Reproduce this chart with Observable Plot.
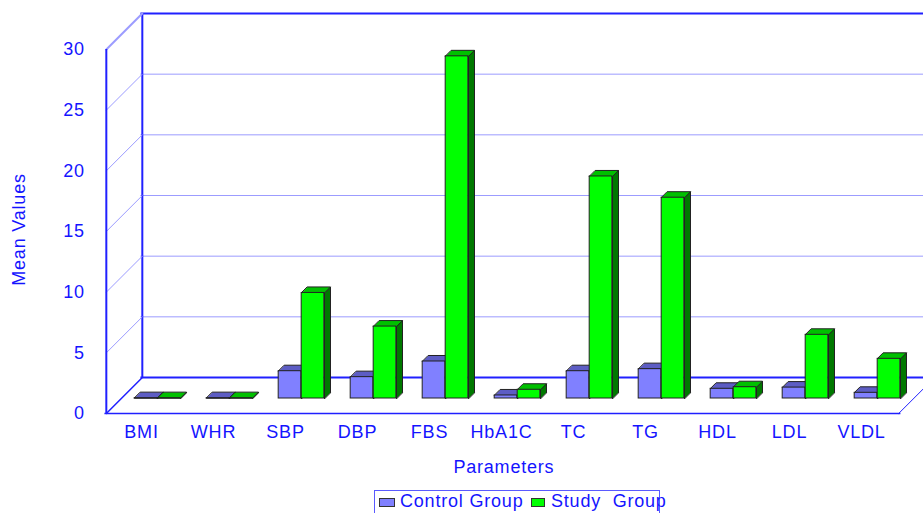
<!DOCTYPE html>
<html>
<head>
<meta charset="utf-8">
<script src="https://cdn.jsdelivr.net/npm/d3@7"></script>
<script src="https://cdn.jsdelivr.net/npm/@observablehq/plot@0.6"></script>
<style>
  html, body { margin: 0; padding: 0; background: #fff; overflow: hidden; }
  #chart { position: relative; width: 923px; height: 513px; font-family: "Liberation Sans", Arial, sans-serif; }
  #chart svg text { letter-spacing: 0.8px; }
  .legend { position: absolute; left: 374px; top: 490px; width: 286px; height: 30px;
            border: 1px solid #5a5aff; box-sizing: border-box; overflow: visible;
            font-family: "Liberation Sans", Arial, sans-serif; font-size: 18px; color: #1414ff;
            letter-spacing: 0.8px; white-space: pre; }
  .legend .sw { position: absolute; top: 7px; height: 9px; border: 1px solid #333; box-sizing: border-box; }
  .legend .lab { position: absolute; top: 0px; line-height: 20px; }
</style>
</head>
<body>
<div id="chart"></div>
<script>
// ---- data ----
const categories = ["BMI", "WHR", "SBP", "DBP", "FBS", "HbA1C", "TC", "TG", "HDL", "LDL", "VLDL"];
const controlGroup = [0.03, 0.03, 2.25, 1.76, 3.05, 0.25, 2.25, 2.42, 0.8, 0.9, 0.47];
const studyGroup = [0.03, 0.03, 8.7, 5.93, 28.2, 0.72, 18.3, 16.55, 0.93, 5.25, 3.27];
const yTicks = [0, 5, 10, 15, 20, 25, 30];
const seriesNames = ["Control Group", "Study  Group"];

// ---- styling constants ----
const W = 923, H = 489;
const mL = 119.4, mR = 7.6, mT = 34, mB = 91;
const step = (W - mL - mR) / categories.length;
const half = step / 2;
const barW = 23, depth = 6;
const front = 15, back = 21;
const blue = "#2020ff", light = "#9c9cff", textBlue = "#1414ff";

// custom curves: draw 3D faces from scaled points
const face = (kind, xl, xr, d) => (context) => {
  let pts = [];
  return {
    areaStart() {}, areaEnd() {},
    lineStart() { pts = []; },
    point(x, y) { pts.push([+x, +y]); },
    lineEnd() {
      if (!pts.length) return;
      const [cx, yb] = pts[0];
      const yt = pts[pts.length - 1][1];
      if (kind === "side") {
        context.moveTo(cx + xr, yb);
        context.lineTo(cx + xr, yt);
        context.lineTo(cx + xr + d, yt - d);
        context.lineTo(cx + xr + d, yb - d);
      } else {
        context.moveTo(cx + xl, yt);
        context.lineTo(cx + xr, yt);
        context.lineTo(cx + xr + d, yt - d);
        context.lineTo(cx + xl + d, yt - d);
      }
      context.closePath();
    }
  };
};
// diagonal from front plane to back wall
const diag = (xoff) => (context) => {
  let p = null;
  return {
    areaStart() {}, areaEnd() {},
    lineStart() { p = null; },
    point(x, y) { if (!p) p = [+x, +y]; },
    lineEnd() {
      if (!p) return;
      context.moveTo(p[0] + xoff - front, p[1] + front);
      context.lineTo(p[0] + xoff + back, p[1] - back);
    }
  };
};

const pts = (vals) => categories.flatMap((c, i) => [{c, v: 0, i}, {c, v: vals[i], i}]);
const rows = (vals) => categories.map((c, i) => ({c, v: vals[i]}));

const barMarks = (vals, xl, xr, fillFront, fillTop, fillSide, inL, inR) => [
  Plot.line(pts(vals), {x: "c", y: "v", z: "i", curve: face("side", xl, xr, depth),
    fill: fillSide, stroke: "#222", strokeWidth: 1, strokeLinejoin: "round"}),
  Plot.line(pts(vals), {x: "c", y: "v", z: "i", curve: face("top", xl, xr, depth),
    fill: fillTop, stroke: "#222", strokeWidth: 1, strokeLinejoin: "round"}),
  Plot.barY(rows(vals), {x: "c", y: "v", insetLeft: inL, insetRight: inR,
    fill: fillFront, stroke: "#222", strokeWidth: 1})
];

const gridTicks = yTicks.filter(t => t > 0 && t < 30);

const plot = Plot.plot({
  width: W, height: H,
  marginLeft: mL, marginRight: mR, marginTop: mT, marginBottom: mB,
  style: {fontFamily: "\"Liberation Sans\", Arial, sans-serif", fontSize: "18px", background: "transparent", overflow: "visible"},
  x: {type: "band", domain: categories, padding: 0, axis: null},
  y: {type: "linear", domain: [0, 30], axis: null},
  marks: [
    // back wall gridlines
    Plot.ruleY(gridTicks, {dx: back, dy: -back, stroke: light, strokeWidth: 1}),
    Plot.ruleY([30], {dx: back, dy: -back, stroke: blue, strokeWidth: 2}),
    Plot.ruleY([0], {dx: back, dy: -back, stroke: blue, strokeWidth: 2}),
    // back wall left vertical
    Plot.ruleX([categories[0]], {y1: 0, y2: 30, dx: -half + back, dy: -back, stroke: blue, strokeWidth: 2}),
    // side wall diagonals
    Plot.line(gridTicks, {x: () => categories[0], y: d => d, z: d => d, curve: diag(-half), stroke: light, strokeWidth: 1}),
    Plot.line([30], {x: () => categories[0], y: d => d, z: d => d, curve: diag(-half), stroke: light, strokeWidth: 2}),
    Plot.line([0], {x: () => categories[0], y: d => d, z: d => d, curve: diag(-half), stroke: blue, strokeWidth: 1.5}),
    // floor right diagonal
    Plot.line([0], {x: () => categories[categories.length - 1], y: d => d, z: d => d, curve: diag(half), stroke: blue, strokeWidth: 1}),
    // front vertical axis and floor front edge
    Plot.ruleX([categories[0]], {y1: 0, y2: 30, dx: -half - front, dy: front, stroke: blue, strokeWidth: 2}),
    Plot.ruleY([0], {dx: -front, dy: front, stroke: blue, strokeWidth: 1.5}),
    // bars
    ...barMarks(controlGroup, -barW, 0, "#8080ff", "#5d5dc4", "#4040a0", half - barW, half),
    ...barMarks(studyGroup, 0, barW, "#00ff00", "#00c000", "#007800", half, half - barW),
    // tick labels
    Plot.text(yTicks, {y: d => d, text: d => String(d), frameAnchor: "left", textAnchor: "end",
      dx: -35, dy: front, fill: textBlue, fontSize: 18}),
    // category labels
    Plot.text(categories, {x: d => d, text: d => d, frameAnchor: "bottom", dx: -16, dy: 39,
      fill: textBlue, fontSize: 18}),
    // axis titles
    Plot.text(["Parameters"], {text: d => d, frameAnchor: "bottom", dx: -14, dy: 74, fill: textBlue, fontSize: 18}),
    Plot.text(["Mean Values"], {text: d => d, frameAnchor: "left", textAnchor: "middle", rotate: -90,
      dx: -101, dy: 13, fill: textBlue, fontSize: 18})
  ]
});

const chart = document.getElementById("chart");
chart.appendChild(plot);

// legend
const legend = document.createElement("div");
legend.className = "legend";
const swatchColors = ["#8080ff", "#00ff00"];
const swLeft = [4, 156], swWidth = [16, 14], labLeft = [25, 176];
seriesNames.forEach((name, i) => {
  const sw = document.createElement("span");
  sw.className = "sw";
  sw.style.left = swLeft[i] + "px";
  sw.style.width = swWidth[i] + "px";
  sw.style.background = swatchColors[i];
  legend.appendChild(sw);
  const lab = document.createElement("span");
  lab.className = "lab";
  lab.style.left = labLeft[i] + "px";
  lab.textContent = name;
  legend.appendChild(lab);
});
chart.appendChild(legend);
</script>
</body>
</html>
